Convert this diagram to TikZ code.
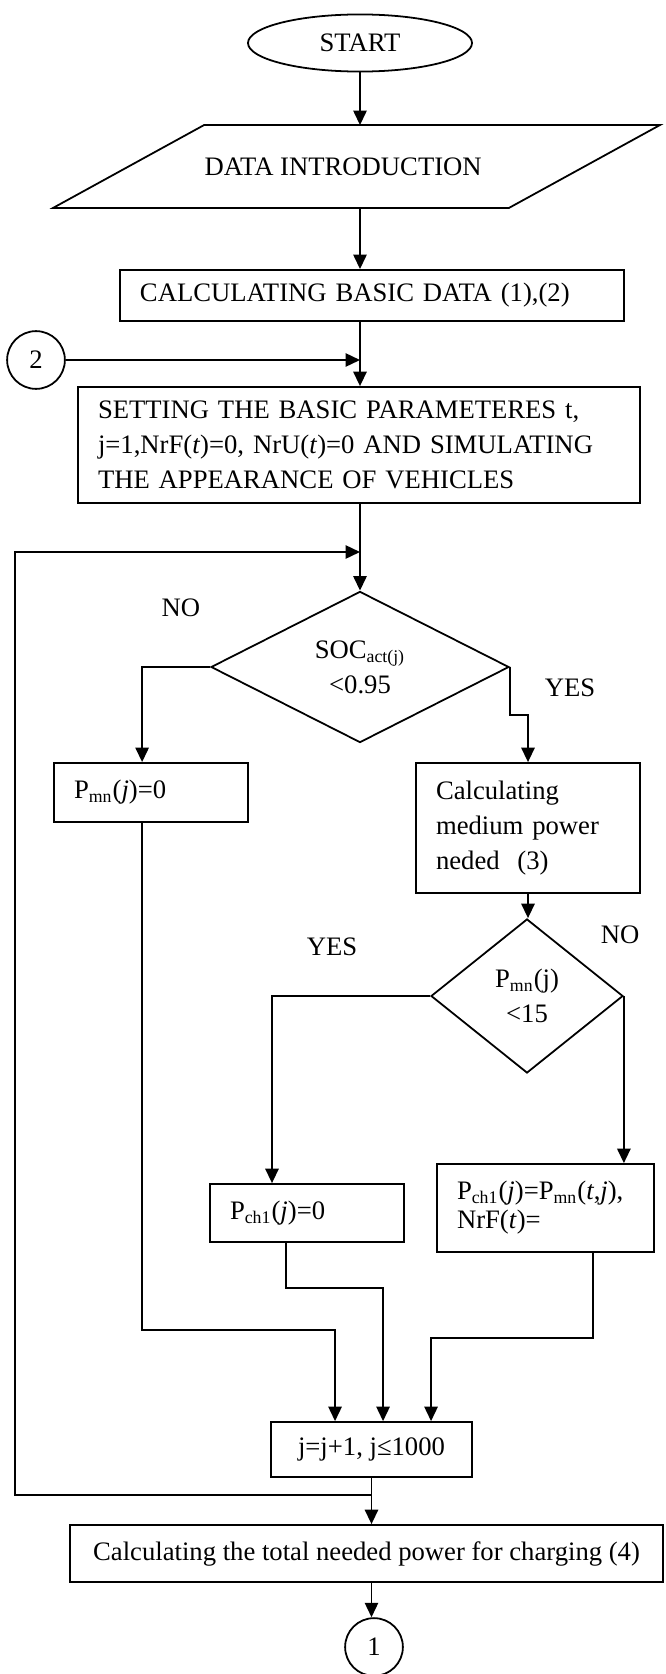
\documentclass[tikz,border=0pt]{standalone}
\usepackage{fontspec}
\setmainfont{Liberation Serif}
\usetikzlibrary{arrows.meta, shapes.geometric, calc}

\begin{document}
\begin{tikzpicture}[x=0.45pt, y=-0.45pt, line width=0.8pt,
        font=\fontsize{12}{15.75}\selectfont,
        arr/.style={-{Triangle[length=6.5pt,width=6pt]}},
        box/.style={draw, rectangle, align=left, inner xsep=9pt, inner ysep=0pt},
        dia/.style={draw, diamond, align=center, inner sep=0pt},
        conn/.style={draw, circle, inner sep=0pt, minimum size=26pt}]

        \useasboundingbox (0,0) rectangle (665,1674);

        \node[draw, ellipse, minimum width=100.8pt, minimum height=25.7pt] (start) at (360,43) {START};
        \node[minimum width=272.3pt, minimum height=36.5pt] (datain) at (356.5,166.5) {DATA INTRODUCTION\hspace*{12pt}};
        \draw ($(datain.north west)+(151,0)$) -- (datain.north east) -- ($(datain.south east)+(-151,0)$) -- (datain.south west) -- cycle;
        \node[box, text width=208.8pt, minimum height=23pt] (calc) at (372,295.5) {CALCULATING BASIC DATA (1),(2)};
        \node[conn] (c2) at (36,360) {2};
        \node[box, text width=234.9pt, minimum height=52.2pt] (setpar) at (359,445) {SETTING THE BASIC PARAMETERES t,\\ j=1,NrF(\textit{t})=0, NrU(\textit{t})=0 AND SIMULATING\\ THE APPEARANCE OF VEHICLES};

        \node[dia, minimum width=134.1pt, minimum height=68pt] (soc) at (360,667) {SOC\textsubscript{act(j)}\\<0.95};
        \node[box, text width=69.3pt, minimum height=26.6pt] (pmn) at (151,792.5) {P\textsubscript{mn}(\textit{j})=0};
        \node[box, text width=82.8pt, minimum height=58.5pt] (calcmed) at (528,828) {Calculating\\ medium power\\ neded~ (3)};
        \node[dia, minimum width=86.4pt, minimum height=69.3pt] (pcmp) at (527,996) {P\textsubscript{mn}(j)\\<15};
        \node[box, text width=69.3pt, minimum height=26.1pt] (pch) at (307,1213) {P\textsubscript{ch1}(\textit{j})=0};
        \node[box, text width=79.65pt, minimum height=39.6pt, font=\fontsize{12}{13}\selectfont] (pchmn) at (545.5,1208) {P\textsubscript{ch1}(\textit{j})=P\textsubscript{mn}(\textit{t},\textit{j}),\\ NrF(\textit{t})=};
        \node[draw, minimum width=90.45pt, minimum height=24.75pt] (jinc) at (371.5,1449.5) {j=j+1, j≤1000};
        \node[draw, minimum width=266.85pt, minimum height=25.65pt] (total) at (366.5,1553.5) {Calculating the total needed power for charging (4)};
        \node[conn] (c1) at (374,1647) {1};

        \node (no1) at (181,608) {NO};
        \node (yes1) at (570,688) {YES};
        \node (yes2) at (332,947) {YES};
        \node (no2) at (620,935) {NO};

        \coordinate (loopin) at (360,552);
        \coordinate (loopout) at (371.5,1495);

        \draw[arr] (start) -- (start |- datain.north);
        \draw[arr] (start |- datain.south) -- (start |- calc.north);
        \draw[arr] (start |- calc.south) -- (start |- setpar.north);
        \draw[arr] (c2) -- (start |- c2);
        \draw[arr] (start |- setpar.south) -- (soc.north);
        \draw[arr] (loopout) -| (15,552) -- (loopin);

        \draw[arr] (soc.west) -| ([xshift=-4pt]pmn.north);
        \draw[arr] (soc.east) -- ++(0,48) -| (calcmed.north);
        \draw[arr] (calcmed.south) -- (calcmed.south |- pcmp.north);
        \draw[arr] (pcmp.west) -| ([xshift=-15.75pt]pch.north);
        \draw[arr] (pcmp.east) -- (pcmp.east |- pchmn.north);

        \draw[arr] ([xshift=-4pt]pmn.south) -- ++(0,507) -| ([xshift=-16.4pt]jinc.north);
        \draw[arr] ([xshift=-9.45pt]pch.south) -- ++(0,45) -| ([xshift=5.2pt]jinc.north);
        \draw[arr] ([xshift=21.4pt]pchmn.south) -- ++(0,85) -| ([xshift=26.8pt]jinc.north);

        \draw[arr] (jinc.south) -- (jinc.south |- total.north);
        \draw[arr] (jinc.south |- total.south) -- (jinc.south |- c1.north);
\end{tikzpicture}
\end{document}
